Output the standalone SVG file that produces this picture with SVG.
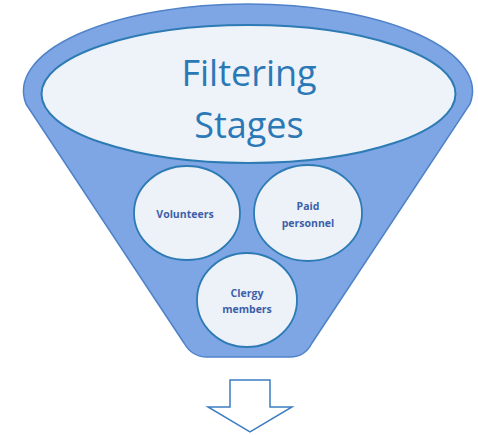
<svg xmlns="http://www.w3.org/2000/svg" width="478" height="435" viewBox="0 0 478 435">
  <style>
    .funnel { fill: #7ea5e4; stroke: #4f82c9; stroke-width: 1.5; }
    .mouth { fill: #eef2f9; stroke: #2d7bb4; stroke-width: 2; }
    .stage { fill: #edf1f8; stroke: #2d7bb4; stroke-width: 1.8; }
    .title { font-family: "Open Sans", "Liberation Sans", sans-serif; font-size: 36px; fill: #2a79b6; text-anchor: middle; }
    .label { font-family: "Open Sans", "Liberation Sans", sans-serif; font-size: 10.5px; font-weight: bold; fill: #3d5fa9; text-anchor: middle; }
    .flow { fill: #ffffff; stroke: #3d7ec2; stroke-width: 1.5; stroke-linejoin: miter; }
  </style>
  <rect width="478" height="435" fill="#ffffff"/>

  <!-- funnel body: wide elliptical rim tapering to a narrow spout -->
  <g id="funnel">
    <path class="funnel" d="M 26,104 L 184,343 Q 192,357 207,357 L 290,357 Q 305,357 312,343 L 470,104 A 224.5 87 0 1 0 26,104 Z"/>
    <ellipse class="mouth" cx="248.5" cy="94" rx="207" ry="69"/>
    <text class="title" x="249" y="86">Filtering</text>
    <text class="title" x="249" y="138">Stages</text>
  </g>

  <g id="volunteers">
    <ellipse class="stage" cx="187" cy="213" rx="53" ry="47"/>
    <text class="label" x="185" y="218">Volunteers</text>
  </g>

  <g id="paid-personnel">
    <ellipse class="stage" cx="308" cy="213" rx="54" ry="48"/>
    <text class="label" x="308" y="210">Paid</text>
    <text class="label" x="308" y="227">personnel</text>
  </g>

  <g id="clergy-members">
    <ellipse class="stage" cx="247" cy="300" rx="50" ry="47"/>
    <text class="label" x="247" y="297">Clergy</text>
    <text class="label" x="247" y="313">members</text>
  </g>

  <!-- outflow arrow below the spout -->
  <g id="connectors">
    <path class="flow" d="M 230,380 L 270,380 L 270,407 L 292,407 L 250,432 L 208,407 L 230,407 Z"/>
  </g>
</svg>
